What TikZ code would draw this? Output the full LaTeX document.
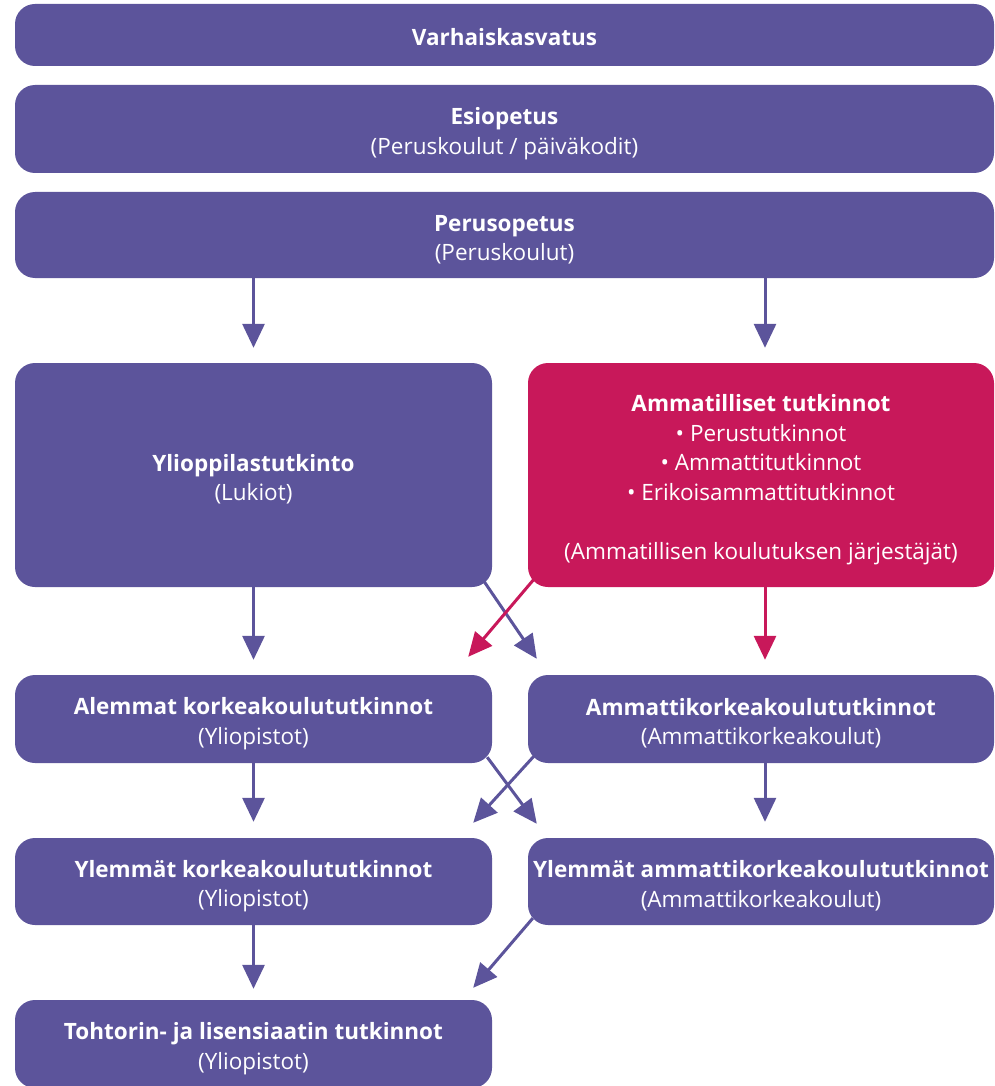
\documentclass[tikz,border=0pt]{standalone}
\usepackage{fontspec}
\setmainfont{Open Sans}
\usetikzlibrary{arrows.meta}
\definecolor{vio}{RGB}{92,84,155}
\definecolor{mag}{RGB}{200,24,90}
\newcommand\mytopstrut{\rule{0pt}{26pt}}
\tikzset{
  box/.style={fill=vio, rounded corners=20pt, inner sep=0pt, text=white, align=center,
    font=\fontsize{22.5}{29.5}\selectfont},
  magbox/.style={box, fill=mag},
  arr/.style={draw=vio, line width=3pt, -{Triangle[width=22pt,length=24pt]}},
  magarr/.style={arr, draw=mag, fill=mag},
}
\begin{document}
\begin{tikzpicture}[x=1pt,y=-1pt]
\useasboundingbox (0,0) rectangle (994,1086);
% rows
\node[box, minimum width=979pt, minimum height=62pt] (va) at (504.5,35) {\rule{0pt}{21pt}\textbf{Varhaiskasvatus}};
\node[box, minimum width=979pt, minimum height=88pt] (es) at (504.5,129) {\mytopstrut\textbf{Esiopetus}\\(Peruskoulut / päiväkodit)};
\node[box, minimum width=979pt, minimum height=86pt] (pe) at (504.5,235) {\mytopstrut\textbf{Perusopetus}\\(Peruskoulut)};
\node[box, minimum width=477pt, minimum height=224pt] (yo) at (253.5,475) {\mytopstrut\textbf{Ylioppilastutkinto}\\(Lukiot)};
\node[magbox, minimum width=466pt, minimum height=224pt] (am) at (761,475) {\mytopstrut\textbf{Ammatilliset tutkinnot}\\• Perustutkinnot\\• Ammattitutkinnot\\• Erikoisammattitutkinnot\\[29.5pt](Ammatillisen koulutuksen järjestäjät)};
\node[box, minimum width=477pt, minimum height=88pt] (al) at (253.5,719) {\mytopstrut\textbf{Alemmat korkeakoulututkinnot}\\(Yliopistot)};
\node[box, minimum width=466pt, minimum height=88pt] (ak) at (761,719) {\mytopstrut\textbf{Ammattikorkeakoulututkinnot}\\(Ammattikorkeakoulut)};
\node[box, minimum width=477pt, minimum height=87pt] (yk) at (253.5,881.5) {\mytopstrut\textbf{Ylemmät korkeakoulututkinnot}\\(Yliopistot)};
\node[box, minimum width=466pt, minimum height=87pt] (ya) at (761,881.5) {\mytopstrut\textbf{Ylemmät ammattikorkeakoulututkinnot}\\(Ammattikorkeakoulut)};
\node[box, minimum width=477pt, minimum height=88pt] (to) at (253.5,1044) {\mytopstrut\textbf{Tohtorin- ja lisensiaatin tutkinnot}\\(Yliopistot)};
% vertical arrows
\draw[arr] (pe.south -| yo.north) -- ([yshift=15pt]yo.north);
\draw[arr] ([xshift=4pt]pe.south -| am.north) -- ([xshift=4pt,yshift=15pt]am.north);
\draw[arr] (yo.south) -- ([yshift=15pt]al.north);
\draw[arr] (al.south) -- ([yshift=16pt]yk.north);
\draw[arr] ([xshift=4pt]ak.south) -- ([xshift=4pt,yshift=16pt]ya.north);
\draw[arr] (yk.south) -- ([yshift=11pt]to.north);
% diagonal arrows
\draw[arr] ([xshift=-9pt,yshift=7pt]yo.south east) -- ([xshift=9pt,yshift=16pt]ak.north west);
\draw[arr] ([xshift=-5pt,yshift=6pt]al.south east) -- ([xshift=9pt,yshift=14pt]ya.north west);
\draw[arr] ([xshift=7pt,yshift=8pt]ak.south west) -- ([xshift=-19pt,yshift=15pt]yk.north east);
\draw[arr] ([xshift=5pt,yshift=7pt]ya.south west) -- ([xshift=-19pt,yshift=12pt]to.north east);
% magenta arrows
\draw[magarr] ([xshift=4pt]am.south) -- ([xshift=4pt,yshift=15pt]ak.north);
\draw[magarr] ([xshift=7pt,yshift=9pt]am.south west) -- ([xshift=-24pt,yshift=18pt]al.north east);
\end{tikzpicture}
\end{document}
